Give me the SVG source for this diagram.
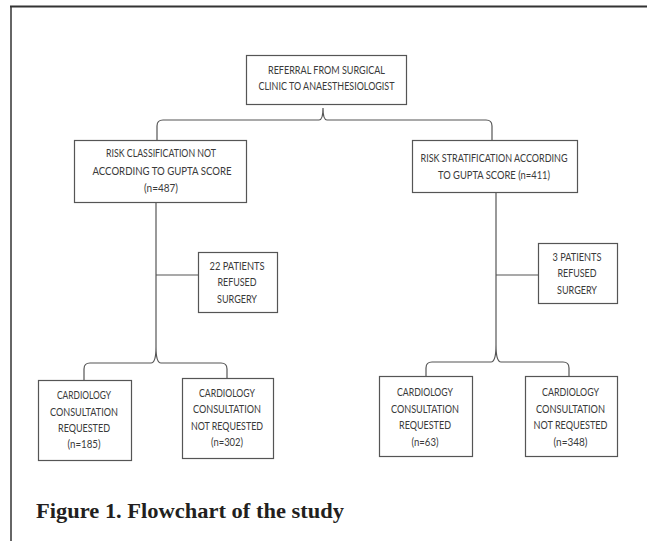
<svg xmlns="http://www.w3.org/2000/svg" width="647" height="541" viewBox="0 0 647 541">
<style>
.frame{stroke:#333;fill:none}
.box{fill:#fff;stroke:#555;stroke-width:1.2}
.t{font-family:Lato,"Open Sans","Liberation Sans",sans-serif;font-size:11px;fill:#3a3a3a;text-anchor:middle}
.c{fill:none;stroke:#555;stroke-width:1.2}
.cap{font-family:"Liberation Serif",serif;font-weight:bold;font-size:21px;fill:#231f20}
</style>
<rect width="647" height="541" fill="#fff"/>
<line class="frame" x1="10" y1="6.5" x2="647" y2="6.5" stroke-width="2"/>
<line class="frame" x1="11" y1="6" x2="11" y2="541" stroke="#777" stroke-width="1.5"/>
<g id="connectors">
<path class="c" d="M157,140 L157,126 Q157,120 163,120 L319,120 Q323,120 323,108 Q323,120 327,120 L486,120 Q492,120 492,126 L492,140"/>
<path class="c" d="M156,202 L156,347"/>
<path class="c" d="M156,275 L198,275"/>
<path class="c" d="M84,380 L84,369 Q84,363 90,363 L151,363 Q156,363 156,347 Q156,363 161,363 L221,363 Q227,363 227,369 L227,378"/>
<path class="c" d="M496,192 L496,345"/>
<path class="c" d="M496,275 L538,275"/>
<path class="c" d="M426,376 L426,368 Q426,362 432,362 L491,362 Q496,362 496,345 Q496,362 501,362 L563,362 Q569,362 569,368 L569,376"/>
</g>
<g id="n-referral">
<rect class="box" x="246.5" y="55.5" width="160" height="49"/>
<text class="t" x="326.5" y="74" textLength="117" lengthAdjust="spacingAndGlyphs">REFERRAL FROM SURGICAL</text>
<text class="t" x="326.5" y="90" textLength="136" lengthAdjust="spacingAndGlyphs">CLINIC TO ANAESTHESIOLOGIST</text>
</g>
<g id="n-not-gupta">
<rect class="box" x="74.5" y="140.5" width="172" height="62"/>
<text class="t" x="161" y="157" textLength="110" lengthAdjust="spacingAndGlyphs">RISK CLASSIFICATION NOT</text>
<text class="t" x="162" y="175" textLength="139" lengthAdjust="spacingAndGlyphs">ACCORDING TO GUPTA SCORE</text>
<text class="t" x="161" y="192" textLength="34" lengthAdjust="spacingAndGlyphs">(n=487)</text>
</g>
<g id="n-gupta">
<rect class="box" x="412.5" y="140.5" width="165" height="52"/>
<text class="t" x="494" y="162" textLength="147" lengthAdjust="spacingAndGlyphs">RISK STRATIFICATION ACCORDING</text>
<text class="t" x="494" y="179" textLength="112" lengthAdjust="spacingAndGlyphs">TO GUPTA SCORE (n=411)</text>
</g>
<g id="n-refused22">
<rect class="box" x="198.5" y="252.5" width="79" height="60"/>
<text class="t" x="237" y="270" textLength="55" lengthAdjust="spacingAndGlyphs">22 PATIENTS</text>
<text class="t" x="237" y="286" textLength="39" lengthAdjust="spacingAndGlyphs">REFUSED</text>
<text class="t" x="237" y="303" textLength="40" lengthAdjust="spacingAndGlyphs">SURGERY</text>
</g>
<g id="n-refused3">
<rect class="box" x="538.5" y="243.5" width="79" height="60"/>
<text class="t" x="577" y="261" textLength="49" lengthAdjust="spacingAndGlyphs">3 PATIENTS</text>
<text class="t" x="577" y="277" textLength="39" lengthAdjust="spacingAndGlyphs">REFUSED</text>
<text class="t" x="577" y="294" textLength="40" lengthAdjust="spacingAndGlyphs">SURGERY</text>
</g>
<g id="n-l-req">
<rect class="box" x="38.5" y="380.5" width="93" height="80"/>
<text class="t" x="84" y="399" textLength="54" lengthAdjust="spacingAndGlyphs">CARDIOLOGY</text>
<text class="t" x="84" y="416" textLength="68" lengthAdjust="spacingAndGlyphs">CONSULTATION</text>
<text class="t" x="84" y="432" textLength="52" lengthAdjust="spacingAndGlyphs">REQUESTED</text>
<text class="t" x="84" y="448" textLength="33" lengthAdjust="spacingAndGlyphs">(n=185)</text>
</g>
<g id="n-l-notreq">
<rect class="box" x="182.5" y="378.5" width="91" height="80"/>
<text class="t" x="227" y="397" textLength="56" lengthAdjust="spacingAndGlyphs">CARDIOLOGY</text>
<text class="t" x="227" y="413" textLength="68" lengthAdjust="spacingAndGlyphs">CONSULTATION</text>
<text class="t" x="227" y="430" textLength="72" lengthAdjust="spacingAndGlyphs">NOT REQUESTED</text>
<text class="t" x="227" y="446" textLength="32" lengthAdjust="spacingAndGlyphs">(n=302)</text>
</g>
<g id="n-r-req">
<rect class="box" x="379.5" y="376.5" width="93" height="80"/>
<text class="t" x="425" y="396" textLength="56" lengthAdjust="spacingAndGlyphs">CARDIOLOGY</text>
<text class="t" x="425" y="413" textLength="68" lengthAdjust="spacingAndGlyphs">CONSULTATION</text>
<text class="t" x="425" y="429" textLength="52" lengthAdjust="spacingAndGlyphs">REQUESTED</text>
<text class="t" x="425" y="446" textLength="27" lengthAdjust="spacingAndGlyphs">(n=63)</text>
</g>
<g id="n-r-notreq">
<rect class="box" x="525.5" y="376.5" width="92" height="80"/>
<text class="t" x="570.5" y="396" textLength="57" lengthAdjust="spacingAndGlyphs">CARDIOLOGY</text>
<text class="t" x="570.5" y="413" textLength="69" lengthAdjust="spacingAndGlyphs">CONSULTATION</text>
<text class="t" x="570.5" y="429" textLength="74" lengthAdjust="spacingAndGlyphs">NOT REQUESTED</text>
<text class="t" x="570.5" y="446" textLength="34" lengthAdjust="spacingAndGlyphs">(n=348)</text>
</g>
<text class="cap" x="36" y="518" textLength="308" lengthAdjust="spacingAndGlyphs">Figure 1. Flowchart of the study</text>
</svg>
